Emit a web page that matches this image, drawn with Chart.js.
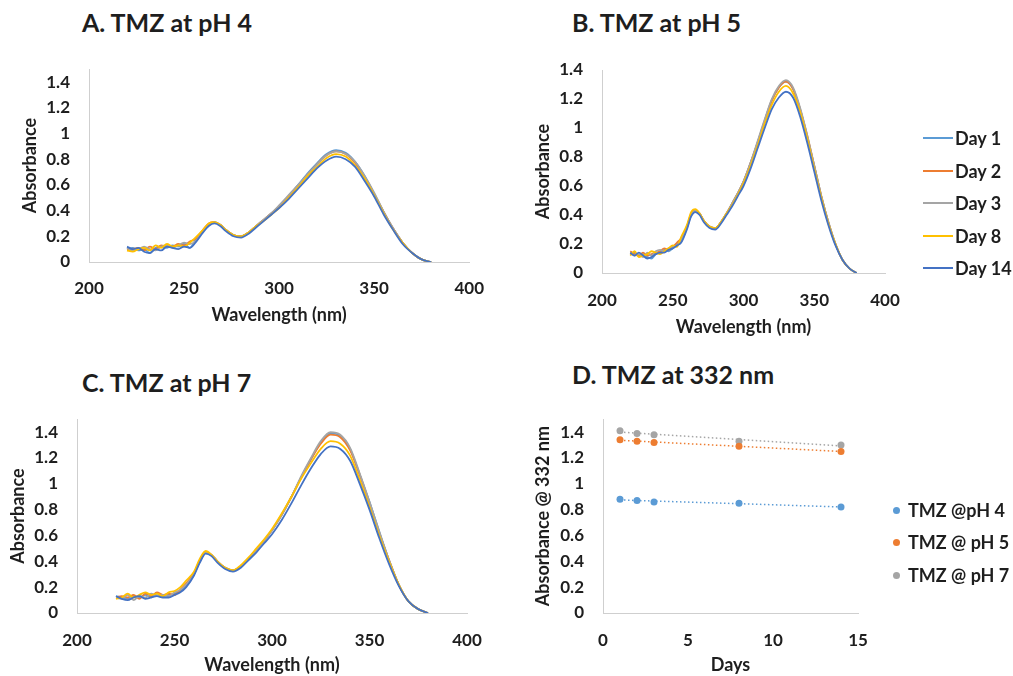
<!DOCTYPE html>
<html>
<head>
<meta charset="utf-8">
<script src="https://cdn.jsdelivr.net/npm/chart.js@4.4.1/dist/chart.umd.min.js"></script>
<style>
  body {
    margin: 0;
    width: 1013px;
    height: 676px;
    position: relative;
    overflow: hidden;
    background: #fff;
    font-family: Lato, "Open Sans", sans-serif;
    color: #1e1e1e;
  }
  .panel { position: absolute; }
  .title {
    position: absolute;
    font-weight: bold;
    font-size: 25px;
    line-height: 1;
    white-space: nowrap;
  }
  .legend-item {
    position: absolute;
    height: 22px;
    display: flex;
    align-items: center;
    font-weight: bold;
    font-size: 18px;
    white-space: nowrap;
  }
  .legend-item .line { width: 30px; height: 2px; margin-right: 2px; }
  .legend-item .dot { width: 7px; height: 7px; border-radius: 50%; margin-right: 8px; }
</style>
</head>
<body>
<div class="title" style="left:82px; top:10px">A. TMZ at pH 4</div>
<div class="title" style="left:572px; top:10px">B. TMZ at pH 5</div>
<div class="title" style="left:82px; top:370px">C. TMZ at pH 7</div>
<div class="title" style="left:572px; top:362px">D. TMZ at 332 nm</div>

<div class="panel" style="left:0; top:40px"><canvas id="chartA" width="500" height="300"></canvas></div>
<div class="panel" style="left:500px; top:40px"><canvas id="chartB" width="513" height="300"></canvas></div>
<div class="panel" style="left:0; top:390px"><canvas id="chartC" width="500" height="286"></canvas></div>
<div class="panel" style="left:500px; top:390px"><canvas id="chartD" width="513" height="286"></canvas></div>

<script>
// wavelength grid (nm): noisy part read every 3 nm, then the smooth bands
const wavelengths = [
  220, 223, 226, 229, 232, 235, 238, 241, 244, 247, 250, 253, 256,
  260, 263, 266, 269, 272, 276, 280, 284, 288, 292, 296, 300, 305, 310,
  315, 320, 325, 330, 335, 340, 345, 350, 355, 360, 365, 370, 375, 380,
];
const dayLabels = ["Day 1", "Day 2", "Day 3", "Day 8", "Day 14"];

// pH 4
const ph4Day1 = [
  0.10, 0.11, 0.09, 0.10, 0.07, 0.11, 0.12, 0.11, 0.13, 0.12, 0.14, 0.11, 0.17,
  0.24, 0.29, 0.31, 0.29, 0.25, 0.21, 0.20, 0.23, 0.28, 0.33, 0.38, 0.43, 0.51, 0.60,
  0.69, 0.77, 0.84, 0.87, 0.85, 0.78, 0.67, 0.53, 0.39, 0.26, 0.15, 0.07, 0.02, 0.00,
];
const ph4Day2 = [
  0.09, 0.10, 0.11, 0.09, 0.12, 0.10, 0.13, 0.12, 0.12, 0.14, 0.13, 0.16, 0.18,
  0.25, 0.30, 0.31, 0.29, 0.25, 0.21, 0.20, 0.23, 0.28, 0.33, 0.38, 0.43, 0.51, 0.59,
  0.68, 0.76, 0.83, 0.86, 0.84, 0.77, 0.66, 0.53, 0.39, 0.26, 0.15, 0.07, 0.02, 0.00,
];
const ph4Day3 = [
  0.11, 0.09, 0.10, 0.12, 0.10, 0.09, 0.12, 0.13, 0.11, 0.13, 0.15, 0.14, 0.16,
  0.24, 0.29, 0.31, 0.29, 0.25, 0.21, 0.20, 0.23, 0.28, 0.33, 0.38, 0.44, 0.52, 0.60,
  0.68, 0.76, 0.83, 0.86, 0.84, 0.78, 0.67, 0.54, 0.39, 0.26, 0.15, 0.07, 0.02, 0.00,
];
const ph4Day8 = [
  0.09, 0.08, 0.10, 0.11, 0.09, 0.13, 0.11, 0.14, 0.12, 0.13, 0.12, 0.15, 0.19,
  0.25, 0.30, 0.31, 0.29, 0.25, 0.21, 0.20, 0.23, 0.28, 0.32, 0.37, 0.42, 0.50, 0.58,
  0.67, 0.74, 0.81, 0.84, 0.82, 0.75, 0.65, 0.52, 0.38, 0.25, 0.15, 0.07, 0.02, 0.00,
];
const ph4Day14 = [
  0.12, 0.10, 0.11, 0.08, 0.07, 0.10, 0.09, 0.12, 0.11, 0.10, 0.12, 0.11, 0.15,
  0.23, 0.28, 0.30, 0.28, 0.24, 0.20, 0.19, 0.22, 0.27, 0.32, 0.37, 0.42, 0.49, 0.57,
  0.65, 0.73, 0.79, 0.82, 0.80, 0.74, 0.63, 0.51, 0.37, 0.25, 0.14, 0.07, 0.02, 0.00,
];

// pH 5
const ph5Day1 = [
  0.13, 0.14, 0.12, 0.13, 0.11, 0.10, 0.13, 0.14, 0.16, 0.15, 0.17, 0.20, 0.22,
  0.31, 0.40, 0.43, 0.41, 0.36, 0.32, 0.31, 0.35, 0.41, 0.48, 0.55, 0.63, 0.76, 0.90,
  1.05, 1.19, 1.28, 1.32, 1.27, 1.13, 0.94, 0.74, 0.53, 0.35, 0.20, 0.09, 0.03, 0.00,
];
const ph5Day2 = [
  0.15, 0.13, 0.12, 0.14, 0.12, 0.13, 0.14, 0.15, 0.17, 0.16, 0.18, 0.21, 0.24,
  0.32, 0.41, 0.43, 0.41, 0.36, 0.32, 0.31, 0.35, 0.41, 0.48, 0.55, 0.63, 0.76, 0.90,
  1.05, 1.19, 1.28, 1.32, 1.27, 1.13, 0.95, 0.74, 0.53, 0.35, 0.20, 0.09, 0.03, 0.00,
];
const ph5Day3 = [
  0.14, 0.12, 0.13, 0.11, 0.14, 0.12, 0.15, 0.16, 0.15, 0.17, 0.18, 0.19, 0.23,
  0.32, 0.40, 0.43, 0.41, 0.36, 0.32, 0.31, 0.35, 0.41, 0.48, 0.55, 0.63, 0.76, 0.91,
  1.06, 1.20, 1.29, 1.33, 1.28, 1.14, 0.95, 0.74, 0.53, 0.35, 0.20, 0.09, 0.03, 0.00,
];
const ph5Day8 = [
  0.12, 0.15, 0.11, 0.12, 0.13, 0.15, 0.14, 0.13, 0.15, 0.17, 0.19, 0.18, 0.25,
  0.33, 0.42, 0.44, 0.41, 0.36, 0.32, 0.31, 0.35, 0.41, 0.47, 0.54, 0.62, 0.74, 0.88,
  1.03, 1.16, 1.25, 1.29, 1.24, 1.11, 0.93, 0.72, 0.52, 0.34, 0.20, 0.09, 0.03, 0.00,
];
const ph5Day14 = [
  0.14, 0.12, 0.14, 0.12, 0.10, 0.11, 0.13, 0.14, 0.14, 0.16, 0.17, 0.19, 0.21,
  0.30, 0.39, 0.42, 0.40, 0.35, 0.31, 0.30, 0.34, 0.40, 0.46, 0.53, 0.60, 0.72, 0.86,
  1.00, 1.13, 1.21, 1.25, 1.21, 1.08, 0.90, 0.70, 0.50, 0.33, 0.19, 0.09, 0.03, 0.00,
];

// pH 7
const ph7Day1 = [
  0.13, 0.12, 0.11, 0.13, 0.12, 0.14, 0.12, 0.15, 0.13, 0.14, 0.15, 0.17, 0.21,
  0.30, 0.40, 0.47, 0.45, 0.40, 0.35, 0.33, 0.36, 0.42, 0.49, 0.56, 0.64, 0.76, 0.90,
  1.05, 1.19, 1.32, 1.39, 1.37, 1.27, 1.07, 0.86, 0.63, 0.41, 0.22, 0.09, 0.03, 0.00,
];
const ph7Day2 = [
  0.12, 0.13, 0.12, 0.14, 0.11, 0.15, 0.13, 0.16, 0.14, 0.15, 0.14, 0.18, 0.23,
  0.31, 0.41, 0.47, 0.45, 0.40, 0.35, 0.33, 0.36, 0.42, 0.49, 0.56, 0.64, 0.76, 0.90,
  1.05, 1.19, 1.31, 1.38, 1.36, 1.26, 1.07, 0.85, 0.62, 0.41, 0.22, 0.09, 0.03, 0.00,
];
const ph7Day3 = [
  0.12, 0.11, 0.14, 0.10, 0.13, 0.12, 0.15, 0.13, 0.14, 0.13, 0.16, 0.18, 0.22,
  0.30, 0.40, 0.47, 0.45, 0.40, 0.35, 0.33, 0.36, 0.42, 0.49, 0.56, 0.64, 0.76, 0.90,
  1.06, 1.20, 1.33, 1.40, 1.38, 1.28, 1.08, 0.86, 0.63, 0.41, 0.22, 0.09, 0.03, 0.00,
];
const ph7Day8 = [
  0.11, 0.12, 0.15, 0.12, 0.14, 0.16, 0.14, 0.15, 0.13, 0.16, 0.17, 0.20, 0.25,
  0.32, 0.42, 0.48, 0.45, 0.40, 0.35, 0.33, 0.37, 0.43, 0.50, 0.57, 0.65, 0.77, 0.90,
  1.04, 1.16, 1.27, 1.33, 1.31, 1.22, 1.03, 0.82, 0.60, 0.40, 0.22, 0.09, 0.03, 0.00,
];
const ph7Day14 = [
  0.13, 0.11, 0.10, 0.12, 0.13, 0.11, 0.12, 0.13, 0.12, 0.12, 0.14, 0.16, 0.20,
  0.29, 0.39, 0.46, 0.44, 0.39, 0.34, 0.32, 0.35, 0.41, 0.47, 0.54, 0.61, 0.72, 0.85,
  0.99, 1.12, 1.23, 1.29, 1.27, 1.18, 1.00, 0.80, 0.58, 0.38, 0.21, 0.09, 0.03, 0.00,
];

// absorbance at 332 nm over time
const days = [1, 2, 3, 8, 14];
const ph4At332 = [0.88, 0.87, 0.86, 0.85, 0.82];
const ph5At332 = [1.34, 1.33, 1.32, 1.29, 1.25];
const ph7At332 = [1.41, 1.39, 1.38, 1.33, 1.30];
const pointLabels = ["TMZ @pH 4", "TMZ @ pH 5", "TMZ @ pH 7"];
// linear trendline ends (day 1, day 14)
const trendDays = [1, 14];
const ph4Trend = [0.875, 0.821];
const ph5Trend = [1.337, 1.250];
const ph7Trend = [1.400, 1.293];

const absorbanceTicks = [0, 0.2, 0.4, 0.6, 0.8, 1, 1.2, 1.4];
const wavelengthTicks = [200, 250, 300, 350, 400];
const dayTicks = [0, 5, 10, 15];

const FONT = "Lato, 'Open Sans', sans-serif";
const INK = "#1e1e1e";
const AXIS = "#cfcfcf";
const dayColors = ["#5B9BD5", "#ED7D31", "#A5A5A5", "#FFC000", "#4472C4"];
const phColors = ["#5B9BD5", "#ED7D31", "#A5A5A5"];

function bold(size) {
  return { family: FONT, size: size, weight: "bold" };
}

function axes(o) {
  return {
    x: {
      type: "linear",
      min: o.xMin,
      max: o.xMax,
      bounds: "data",
      afterBuildTicks: (s) => { s.ticks = o.xTicks.map((v) => ({ value: v })); },
      afterFit: (s) => { s.height = o.xHeight; },
      grid: { display: false, drawTicks: false },
      border: { color: AXIS, width: 1 },
      ticks: { padding: o.xTickPad, color: INK, font: bold(17), maxRotation: 0, autoSkip: false, callback: (v) => String(v) },
      title: { display: true, text: o.xTitle, color: INK, font: bold(18), padding: { top: 0, bottom: o.xTitlePad } },
    },
    y: {
      type: "linear",
      min: 0,
      max: o.yMax,
      bounds: "data",
      afterBuildTicks: (s) => { s.ticks = absorbanceTicks.map((v) => ({ value: v })); },
      afterFit: (s) => { s.width = o.yWidth; },
      grid: { display: false, drawTicks: false },
      border: { color: AXIS, width: 1 },
      ticks: { padding: 19, color: INK, font: bold(17), autoSkip: false, callback: (v) => String(Math.round(v * 10) / 10) },
      title: { display: true, text: o.yTitle, color: INK, font: bold(18), padding: { top: o.yTitlePad, bottom: 0 } },
    },
  };
}

function spectrum_chart(id, series, o) {
  const datasets = series.map((values, i) => ({
    label: dayLabels[i],
    data: wavelengths.map((w, k) => ({ x: w, y: values[k] })),
    borderColor: dayColors[i],
    borderWidth: 1.8,
    pointRadius: 0,
    cubicInterpolationMode: "monotone",
    fill: false,
    order: series.length - i, // later days on top, like the original
  }));
  return new Chart(document.getElementById(id), {
    type: "line",
    data: { datasets },
    options: {
      responsive: false,
      animation: false,
      events: [],
      layout: { padding: o.padding },
      plugins: { legend: { display: false }, tooltip: { enabled: false } },
      scales: axes(Object.assign({
        xMin: 200, xMax: 400, xTicks: wavelengthTicks, xTitle: "Wavelength (nm)", yTitle: "Absorbance",
      }, o)),
    },
  });
}

spectrum_chart("chartA", [ph4Day1, ph4Day2, ph4Day3, ph4Day8, ph4Day14], {
  padding: { top: 18, right: 19, bottom: 0, left: 0 },
  yMax: 1.5, yWidth: 89, yTitlePad: 19, xHeight: 78, xTickPad: 16, xTitlePad: 14,
});
spectrum_chart("chartB", [ph5Day1, ph5Day2, ph5Day3, ph5Day8, ph5Day14], {
  padding: { top: 30, right: 128, bottom: 0, left: 0 },
  yMax: 1.4, yWidth: 102, yTitlePad: 32, xHeight: 67, xTickPad: 17, xTitlePad: 2,
});
spectrum_chart("chartC", [ph7Day1, ph7Day2, ph7Day3, ph7Day8, ph7Day14], {
  padding: { top: 18, right: 33, bottom: 0, left: 0 },
  yMax: 1.5, yWidth: 77, yTitlePad: 7, xHeight: 63, xTickPad: 17, xTitlePad: 0,
});

// panel D: points + dotted linear trendlines
const pointSets = [ph4At332, ph5At332, ph7At332];
const trendSets = [ph4Trend, ph5Trend, ph7Trend];
const dDatasets = [];
pointSets.forEach((values, i) => {
  dDatasets.push({
    type: "scatter",
    label: pointLabels[i],
    data: days.map((d, k) => ({ x: d, y: values[k] })),
    backgroundColor: phColors[i],
    borderColor: phColors[i],
    pointRadius: 3.5,
    pointBorderWidth: 0,
  });
  dDatasets.push({
    type: "line",
    label: pointLabels[i] + " trend",
    data: trendDays.map((d, k) => ({ x: d, y: trendSets[i][k] })),
    borderColor: phColors[i],
    borderWidth: 1.5,
    borderDash: [1.5, 2.5],
    pointRadius: 0,
    fill: false,
  });
});

new Chart(document.getElementById("chartD"), {
  type: "scatter",
  data: { datasets: dDatasets },
  options: {
    responsive: false,
    animation: false,
    events: [],
    layout: { padding: { top: 18, right: 155, bottom: 0, left: 0 } },
    plugins: { legend: { display: false }, tooltip: { enabled: false } },
    scales: axes({
      xMin: 0, xMax: 15, xTicks: dayTicks, xTitle: "Days", yTitle: "Absorbance @ 332 nm",
      yMax: 1.5, yWidth: 103, yTitlePad: 32, xHeight: 63, xTickPad: 17, xTitlePad: 0,
    }),
  },
});

// legends as plain text next to the plots
function legend_item(left, centerY, label, color, kind) {
  const item = document.createElement("div");
  item.className = "legend-item";
  item.style.left = left + "px";
  item.style.top = centerY - 11 + "px";
  const mark = document.createElement("span");
  mark.className = kind;
  mark.style.background = color;
  item.appendChild(mark);
  item.appendChild(document.createTextNode(label));
  document.body.appendChild(item);
}

const dayLegendY = [138, 171, 203, 236, 268];
dayLabels.forEach((label, i) => legend_item(923, dayLegendY[i], label, dayColors[i], "line"));

const phLegendY = [510, 542, 575];
pointLabels.forEach((label, i) => legend_item(893, phLegendY[i], label, phColors[i], "dot"));
</script>
</body>
</html>
